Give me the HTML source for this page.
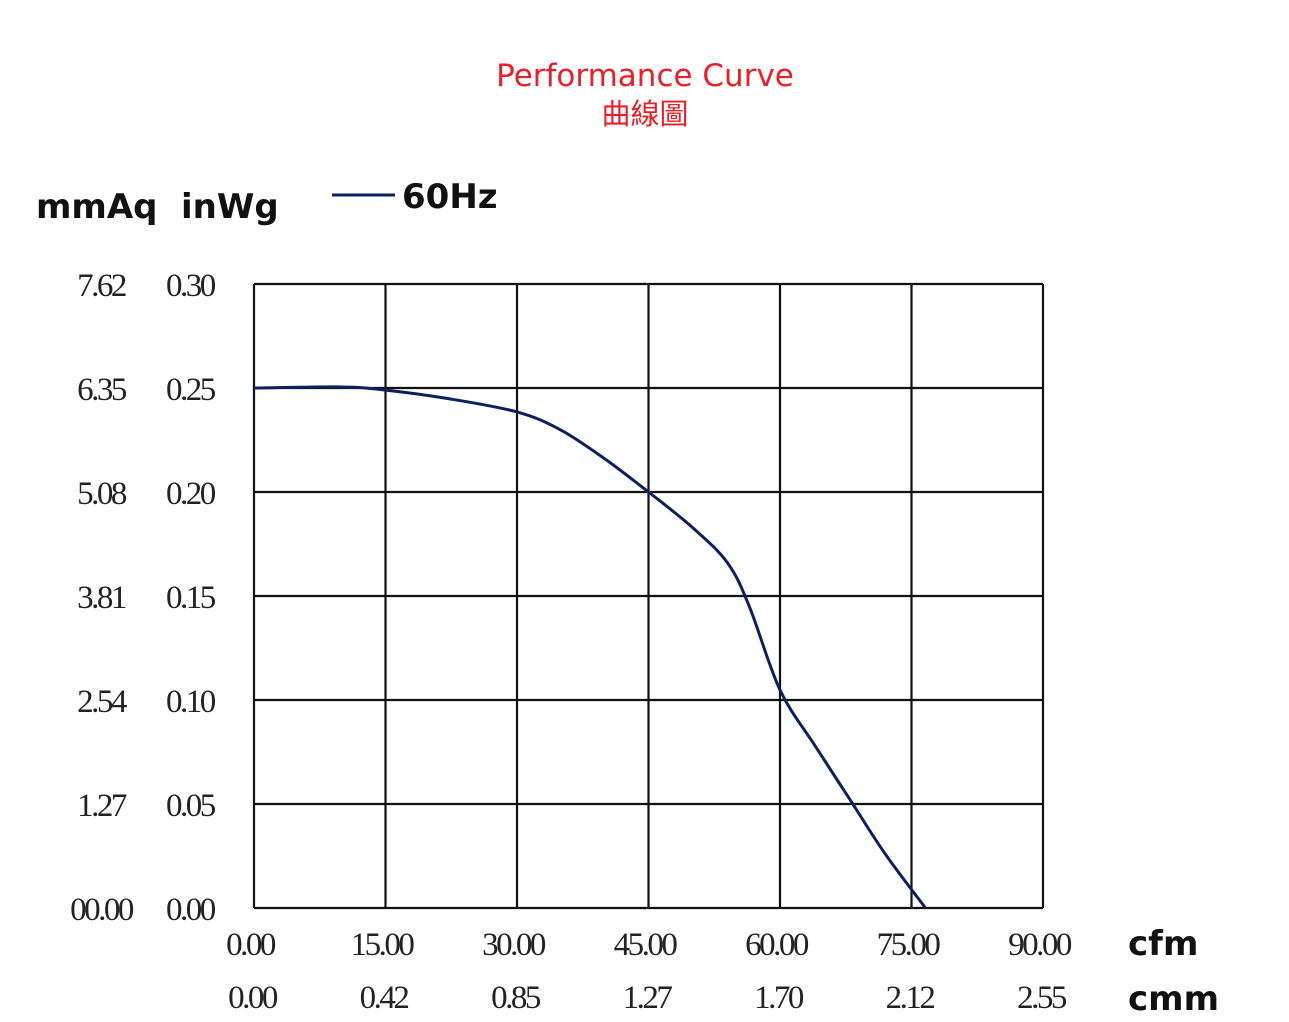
<!DOCTYPE html>
<html><head><meta charset="utf-8"><style>
body{margin:0;background:#fff;}
svg text{font-family:"Liberation Serif",serif;}
</style></head><body>
<svg width="1289" height="1017" xmlns="http://www.w3.org/2000/svg" id="chart">
<text x="645" y="86" text-anchor="middle" fill="#e8202a" style="font-family:'DejaVu Sans','Liberation Sans',sans-serif;font-size:31px">Performance Curve</text>
<text x="645" y="124" text-anchor="middle" fill="#e8202a" style="font-family:'Liberation Sans','Noto Sans CJK TC',sans-serif;font-size:29px">曲線圖</text>
<text x="36" y="218" style="font-family:'DejaVu Sans','Liberation Sans',sans-serif;font-size:34px;font-weight:bold" fill="#111">mmAq</text>
<text x="181" y="218" style="font-family:'DejaVu Sans','Liberation Sans',sans-serif;font-size:34px;font-weight:bold" fill="#111">inWg</text>
<line x1="332" y1="195" x2="395" y2="195" stroke="#0f1f5c" stroke-width="3"/>
<text x="402" y="208" style="font-family:'DejaVu Sans','Liberation Sans',sans-serif;font-size:34px;font-weight:bold" fill="#111">60Hz</text>
<g id="grid"></g><g id="labels"></g>
<path id="curve" fill="none" stroke="#0f1f5c" stroke-width="3"/>
<text x="1128" y="955" style="font-family:'DejaVu Sans','Liberation Sans',sans-serif;font-size:34px;font-weight:bold" fill="#111">cfm</text>
<text x="1128" y="1010" style="font-family:'DejaVu Sans','Liberation Sans',sans-serif;font-size:34px;font-weight:bold" fill="#111">cmm</text>
</svg>
<script>
const cfmTicks=["0.00","15.00","30.00","45.00","60.00","75.00","90.00"];
const cmmTicks=["0.00","0.42","0.85","1.27","1.70","2.12","2.55"];
const inwgTicks=["0.00","0.05","0.10","0.15","0.20","0.25","0.30"];
const mmaqTicks=["00.00","1.27","2.54","3.81","5.08","6.35","7.62"];
const flowCfm=[0,10,15,22,30,35,40,45,50,54,56.5,60,64,68,72,76.6];
const pressureInWg=[0.250,0.2505,0.249,0.245,0.2385,0.2298,0.216,0.200,0.183,0.166,0.145,0.1048,0.078,0.052,0.026,0];
const X0=254,X1=1043,Y0=908,Y1=284;
const xs=v=>X0+(v/90)*(X1-X0), ys=v=>Y0-(v/0.30)*(Y0-Y1);
const NS="http://www.w3.org/2000/svg";
const grid=document.getElementById('grid'),lab=document.getElementById('labels');
function mk(tag,attrs,parent){const e=document.createElementNS(NS,tag);for(const k in attrs)e.setAttribute(k,attrs[k]);parent.appendChild(e);return e;}
cfmTicks.forEach((t,i)=>{
  const v=+t,x=xs(v);
  const l=mk('line',{x1:x,y1:Y1,x2:x,y2:Y0,stroke:'#111','stroke-width':2.2},grid);
  
  
  const a=mk('text',{x:x-4,y:955,'text-anchor':'middle','font-size':33,'letter-spacing':-2.5,fill:'#222'},lab);a.textContent=t;
  
  
  const b=mk('text',{x:x-2,y:1008,'text-anchor':'middle','font-size':33,'letter-spacing':-2.5,fill:'#222'},lab);b.textContent=cmmTicks[i];
  
  
});
inwgTicks.forEach((t,i)=>{
  const y=ys(+t);
  const l=mk('line',{x1:X0,y1:y,x2:X1,y2:y,stroke:'#111','stroke-width':2.2},grid);
  
  
  const a=mk('text',{x:166,y:y+12,'font-size':33,'letter-spacing':-2.5,fill:'#222'},lab);a.textContent=t;
  
  
  const b=mk('text',{x:101,y:y+12,'text-anchor':'middle','font-size':33,'letter-spacing':-2.5,fill:'#222'},lab);b.textContent=mmaqTicks[i];
  
  
});
const P=flowCfm.map((f,i)=>[xs(f),ys(pressureInWg[i])]);
let d=`M${P[0][0]},${P[0][1]}`;
for(let i=0;i<P.length-1;i++){
  const p0=P[i-1]||P[i],p1=P[i],p2=P[i+1],p3=P[i+2]||p2;
  const c1=[p1[0]+(p2[0]-p0[0])/6,p1[1]+(p2[1]-p0[1])/6];
  const c2=[p2[0]-(p3[0]-p1[0])/6,p2[1]-(p3[1]-p1[1])/6];
  d+=` C${c1[0]},${c1[1]} ${c2[0]},${c2[1]} ${p2[0]},${p2[1]}`;
}
document.getElementById('curve').setAttribute('d',d);
</script>
</body></html>
